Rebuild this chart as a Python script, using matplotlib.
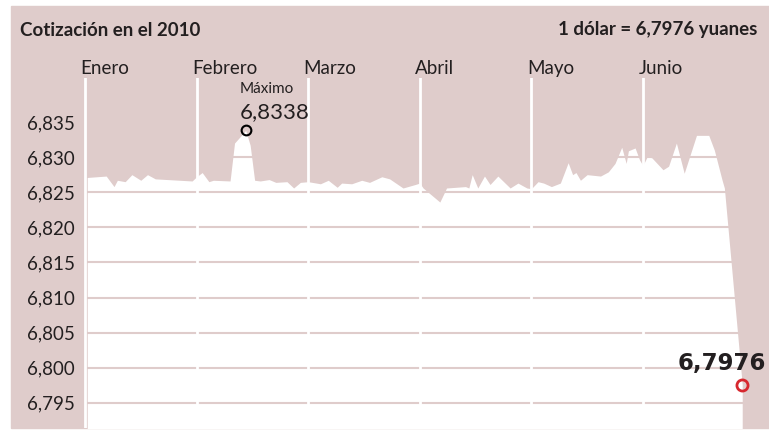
import matplotlib.pyplot as plt
from matplotlib.patches import Rectangle

# posición en meses (0 = 1 de enero) y cotización dólar/yuan
mes = [0.02, 0.19, 0.26, 0.29, 0.36, 0.42, 0.50, 0.56, 0.63, 0.96,
       1.00, 1.05, 1.11, 1.15, 1.30, 1.34, 1.39, 1.44, 1.48, 1.52,
       1.57, 1.65, 1.71, 1.81, 1.87, 1.93, 2.00, 2.11, 2.18, 2.26,
       2.30, 2.39, 2.48, 2.55, 2.66, 2.73, 2.85, 2.96, 3.00, 3.03,
       3.18, 3.24, 3.41, 3.44, 3.47, 3.52, 3.58, 3.63, 3.70, 3.81,
       3.88, 3.96, 4.00, 4.06, 4.11, 4.18, 4.26, 4.33, 4.37, 4.40,
       4.44, 4.50, 4.62, 4.69, 4.75, 4.81, 4.85, 4.87, 4.93, 4.97,
       5.00, 5.04, 5.08, 5.18, 5.23, 5.30, 5.37, 5.48, 5.59, 5.64,
       5.71, 5.73, 5.89]
cotizacion = [6.8271, 6.8273, 6.8258, 6.8267, 6.8265, 6.8275, 6.8267, 6.8275, 6.8269, 6.8266,
              6.8272, 6.8278, 6.8265, 6.8267, 6.8266, 6.8320, 6.8329, 6.8338, 6.8317, 6.8267,
              6.8266, 6.8268, 6.8264, 6.8265, 6.8256, 6.8264, 6.8265, 6.8262, 6.8267, 6.8257,
              6.8263, 6.8262, 6.8267, 6.8264, 6.8272, 6.8269, 6.8256, 6.8261, 6.8263, 6.8256,
              6.8236, 6.8256, 6.8258, 6.8256, 6.8275, 6.8256, 6.8273, 6.8261, 6.8273, 6.8256,
              6.8263, 6.8256, 6.8255, 6.8265, 6.8263, 6.8258, 6.8263, 6.8292, 6.8275, 6.8278,
              6.8267, 6.8275, 6.8273, 6.8279, 6.8291, 6.8314, 6.8291, 6.8309, 6.8313, 6.8296,
              6.8288, 6.8301, 6.8299, 6.8282, 6.8287, 6.8320, 6.8277, 6.8331, 6.8331, 6.8310,
              6.8267, 6.8256, 6.7976]

meses = ['Enero', 'Febrero', 'Marzo', 'Abril', 'Mayo', 'Junio']
yticks = [6.795, 6.800, 6.805, 6.810, 6.815, 6.820, 6.825, 6.830, 6.835]

rosa = '#dfcccb'
texto = '#231f20'
rojo = '#d7282f'
W, H = 769, 445
plt.rcParams['font.family'] = ['Lato', 'DejaVu Sans']

fig = plt.figure(figsize=(W / 100, H / 100), dpi=100)
fig.patches.append(Rectangle((11 / W, 1 - 428 / H), (W - 11) / W, (428 - 6) / H,
                             transform=fig.transFigure, color=rosa, zorder=-5))

ax = fig.add_axes([84 / W, 1 - 428 / H, (W - 84) / W, (428 - 78) / H])
ax.set_facecolor(rosa)
ax.set_xlim(-0.009, 6.13)
ax.set_ylim(6.79141, 6.84127)

ax.fill_between(mes, cotizacion, 6.78, color='white', lw=0, zorder=1)
for t in yticks:
    ax.axhline(t, color=rosa, lw=1.5, zorder=2)
for i in range(len(meses)):
    ax.axvline(i, color='white', lw=2, zorder=3)
    ax.text(i - 0.04, 6.8414, meses[i], ha='left', va='bottom', fontsize=13.5,
            color=texto, clip_on=False)

for s in ax.spines.values():
    s.set_visible(False)
ax.set_xticks([])
ax.set_yticks(yticks)
ax.set_yticklabels([f'{t:.3f}'.replace('.', ',') for t in yticks])
ax.tick_params(axis='y', length=0, pad=6.5, labelsize=13.5, labelcolor=texto)

# máximo
imax = cotizacion.index(max(cotizacion))
ax.plot(mes[imax], cotizacion[imax], 'o', ms=7, mfc='none', mec='black', mew=1.5, zorder=5)
ax.annotate('Máximo', (mes[imax], cotizacion[imax]), xytext=(-6, 41), textcoords='offset pixels',
            fontsize=11, color=texto, ha='left', va='center')
ax.annotate('6,8338', (mes[imax], cotizacion[imax]), xytext=(-6, 18), textcoords='offset pixels',
            fontsize=16, color=texto, ha='left', va='center')

# último valor
ax.plot(mes[-1], cotizacion[-1], 'o', ms=8, mfc='none', mec=rojo, mew=2, zorder=5)
ax.annotate('6,7976', (mes[-1], cotizacion[-1]), xytext=(24, 21), textcoords='offset pixels',
            fontsize=16.5, fontweight='bold', color=texto, ha='right', va='center',
            family='DejaVu Sans', annotation_clip=False)

fig.text(20 / W, 1 - 30 / H, 'Cotización en el 2010', fontsize=13.5, fontweight='bold',
         color=texto, ha='left', va='center')
fig.text(757 / W, 1 - 30 / H, '1 dólar = 6,7976 yuanes', fontsize=13.5, fontweight='bold',
         color=texto, ha='right', va='center')

fig.savefig('out.png', dpi=100, facecolor='white')
